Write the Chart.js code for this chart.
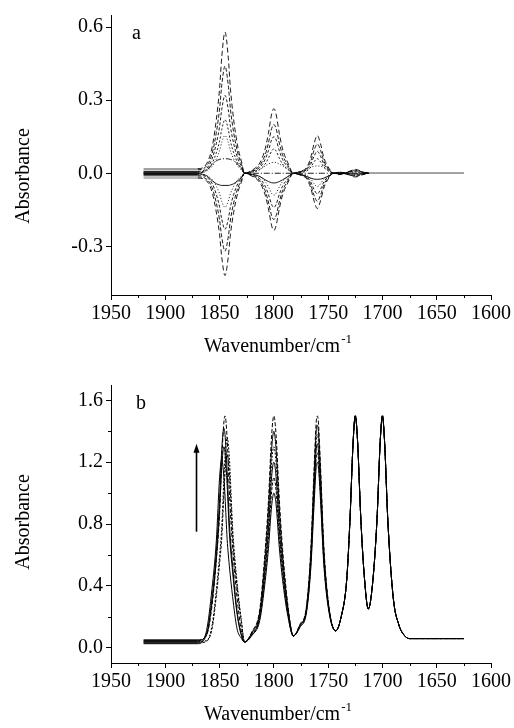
<!DOCTYPE html>
<html>
<head>
<meta charset="utf-8">
<script src="https://cdn.jsdelivr.net/npm/chart.js@4.4.1/dist/chart.umd.min.js"></script>
<style>
  html, body { margin: 0; padding: 0; background: #fff; }
  #wrap { position: relative; width: 514px; height: 728px; }
  canvas { position: absolute; left: 0; }
</style>
</head>
<body>
<div id="wrap">
  <canvas id="chartA" width="514" height="364" style="top:0"></canvas>
  <canvas id="chartB" width="514" height="364" style="top:364px"></canvas>
</div>
<script>
// ---------- panel a: dynamic (difference) spectra ----------
const WAVENUMBER_A = [
  1920, 1870, 1862, 1857, 1853, 1850, 1848, 1845, 1842, 1840, 1837, 1833, 1830, 1827,
  1820, 1813, 1808, 1805, 1802, 1800, 1798, 1795, 1792, 1787, 1782,
  1776, 1770, 1766, 1763, 1760, 1757, 1754, 1749, 1745,
  1740, 1735, 1730, 1727, 1725, 1723, 1720, 1716, 1712,
  1625
];
const DYN_1 = [0.019, 0.019, 0.039, 0.104, 0.22, 0.348, 0.476, 0.58, 0.476, 0.348, 0.22, 0.104, 0.052, 0,
  0.013, 0.042, 0.10, 0.164, 0.244, 0.265, 0.244, 0.164, 0.10, 0.042, 0,
  0.008, 0.023, 0.065, 0.121, 0.155, 0.121, 0.065, 0.019, 0,
  0.005, 0.002, 0.009, 0.014, 0.016, 0.014, 0.009, 0.003, 0, 0];
const DYN_2 = [0.015, 0.015, 0.03, 0.079, 0.167, 0.264, 0.361, 0.44, 0.361, 0.264, 0.167, 0.079, 0.04, 0,
  0.01, 0.032, 0.076, 0.124, 0.184, 0.20, 0.184, 0.124, 0.076, 0.032, 0,
  0.006, 0.018, 0.05, 0.094, 0.12, 0.094, 0.05, 0.014, 0,
  0.004, 0.002, 0.007, 0.012, 0.013, 0.012, 0.007, 0.003, 0, 0];
const DYN_3 = [0.008, 0.008, 0.02, 0.058, 0.122, 0.192, 0.262, 0.32, 0.262, 0.192, 0.122, 0.058, 0.029, 0,
  0.008, 0.024, 0.057, 0.093, 0.138, 0.15, 0.138, 0.093, 0.057, 0.024, 0,
  0.005, 0.014, 0.038, 0.07, 0.09, 0.07, 0.038, 0.011, 0,
  0.003, 0.002, 0.006, 0.009, 0.01, 0.009, 0.006, 0.002, 0, 0];
const DYN_4 = [0.005, 0.005, 0.014, 0.04, 0.084, 0.132, 0.18, 0.22, 0.18, 0.132, 0.084, 0.04, 0.02, 0,
  0.005, 0.016, 0.038, 0.062, 0.092, 0.10, 0.092, 0.062, 0.038, 0.016, 0,
  0.003, 0.009, 0.025, 0.047, 0.06, 0.047, 0.025, 0.007, 0,
  0.002, 0.001, 0.004, 0.006, 0.007, 0.006, 0.004, 0.001, 0, 0];
const DYN_5 = [0.002, 0.002, 0.009, 0.028, 0.059, 0.093, 0.127, 0.155, 0.127, 0.093, 0.059, 0.028, 0.014, 0,
  0.005, 0.015, 0.03, 0.038, 0.044, 0.045, 0.044, 0.038, 0.03, 0.015, 0,
  0.006, 0.015, 0.024, 0.029, 0.03, 0.029, 0.024, 0.012, 0,
  0.001, 0.001, 0.002, 0.004, 0.004, 0.004, 0.002, 0.001, 0, 0];
const DYN_6 = [0, 0, 0.012, 0.036, 0.051, 0.057, 0.059, 0.06, 0.059, 0.057, 0.051, 0.036, 0.021, 0,
  0, 0, 0, 0, 0, 0, 0, 0, 0, 0, 0,
  0, 0, 0, 0, 0, 0, 0, 0, 0,
  0, 0, 0, 0, 0, 0, 0, 0, 0, 0];
const DYN_7 = [-0.002, -0.002, -0.01, -0.03, -0.043, -0.048, -0.05, -0.05, -0.05, -0.048, -0.043, -0.03, -0.018, 0,
  -0.004, -0.013, -0.027, -0.034, -0.039, -0.04, -0.039, -0.034, -0.027, -0.013, 0,
  -0.005, -0.013, -0.02, -0.024, -0.025, -0.024, -0.02, -0.01, 0,
  -0.001, 0, -0.002, -0.003, -0.003, -0.003, -0.002, -0.001, 0, 0];
const DYN_8 = [-0.005, -0.005, -0.01, -0.025, -0.053, -0.084, -0.115, -0.14, -0.115, -0.084, -0.053, -0.025, -0.013, 0,
  -0.005, -0.014, -0.034, -0.056, -0.083, -0.09, -0.083, -0.056, -0.034, -0.014, 0,
  -0.003, -0.008, -0.023, -0.043, -0.055, -0.043, -0.023, -0.007, 0,
  -0.002, -0.001, -0.003, -0.005, -0.006, -0.005, -0.003, -0.001, 0, 0];
const DYN_9 = [-0.008, -0.008, -0.016, -0.041, -0.087, -0.138, -0.189, -0.23, -0.189, -0.138, -0.087, -0.041, -0.021, 0,
  -0.007, -0.022, -0.053, -0.087, -0.129, -0.14, -0.129, -0.087, -0.053, -0.022, 0,
  -0.004, -0.013, -0.036, -0.066, -0.085, -0.066, -0.036, -0.01, 0,
  -0.003, -0.001, -0.005, -0.008, -0.009, -0.008, -0.005, -0.002, 0, 0];
const DYN_10 = [-0.015, -0.015, -0.024, -0.058, -0.122, -0.192, -0.262, -0.32, -0.262, -0.192, -0.122, -0.058, -0.029, 0,
  -0.01, -0.03, -0.072, -0.118, -0.175, -0.19, -0.175, -0.118, -0.072, -0.03, 0,
  -0.006, -0.017, -0.048, -0.09, -0.115, -0.09, -0.048, -0.014, 0,
  -0.004, -0.002, -0.007, -0.011, -0.012, -0.011, -0.007, -0.002, 0, 0];
const DYN_11 = [-0.02, -0.02, -0.031, -0.076, -0.16, -0.252, -0.344, -0.42, -0.344, -0.252, -0.16, -0.076, -0.038, 0,
  -0.012, -0.038, -0.089, -0.146, -0.216, -0.235, -0.216, -0.146, -0.089, -0.038, 0,
  -0.007, -0.022, -0.061, -0.113, -0.145, -0.113, -0.061, -0.017, 0,
  -0.005, -0.002, -0.008, -0.014, -0.015, -0.014, -0.008, -0.003, 0, 0];
const SERIES_A = [DYN_1, DYN_2, DYN_3, DYN_4, DYN_5, DYN_6, DYN_7, DYN_8, DYN_9, DYN_10, DYN_11];
const Y_TICKS_A = [-0.3, 0.0, 0.3, 0.6];

// ---------- panel b: spectra series ----------
const WAVENUMBER_B = [
  1920, 1870, 1862, 1857, 1853, 1850, 1848, 1846, 1845, 1843, 1841, 1838, 1834, 1830, 1827,
  1820, 1813, 1808, 1805, 1802, 1800, 1798, 1795, 1792, 1787, 1782,
  1776, 1770, 1766, 1763, 1761, 1760, 1759, 1757, 1754, 1749, 1743,
  1738, 1733, 1730, 1727, 1725, 1723, 1720, 1717, 1713,
  1709, 1705, 1702, 1700, 1698, 1695, 1690, 1685, 1680, 1675, 1625
];
// 1920-1743 cm-1 part of each spectrum
const SPEC_1 = [0.025, 0.025, 0.11, 0.38, 0.69, 1.10, 1.22, 1.10, 0.98, 0.70, 0.53, 0.33, 0.125, 0.06, 0.036,
  0.08, 0.175, 0.43, 0.64, 0.92, 1.00, 0.93, 0.65, 0.44, 0.20, 0.075,
  0.13, 0.225, 0.51, 0.92, 1.17, 1.20, 1.17, 0.95, 0.54, 0.22, 0.108];
const SPEC_2 = [0.03, 0.03, 0.04, 0.12, 0.335, 0.545, 0.71, 1.00, 1.13, 1.25, 1.13, 0.72, 0.40, 0.17, 0.036,
  0.085, 0.19, 0.47, 0.70, 1.015, 1.10, 1.02, 0.71, 0.48, 0.21, 0.075,
  0.135, 0.235, 0.535, 0.965, 1.23, 1.26, 1.23, 0.99, 0.56, 0.23, 0.108];
const SPEC_3 = [0.035, 0.035, 0.08, 0.29, 0.57, 0.885, 1.17, 1.30, 1.265, 1.05, 0.745, 0.49, 0.225, 0.08, 0.036,
  0.09, 0.20, 0.51, 0.76, 1.11, 1.20, 1.11, 0.77, 0.52, 0.225, 0.075,
  0.14, 0.24, 0.56, 1.01, 1.28, 1.32, 1.28, 1.04, 0.59, 0.235, 0.108];
const SPEC_4 = [0.04, 0.04, 0.045, 0.14, 0.37, 0.595, 0.78, 1.095, 1.23, 1.36, 1.23, 0.78, 0.43, 0.18, 0.036,
  0.095, 0.215, 0.55, 0.825, 1.20, 1.30, 1.20, 0.84, 0.56, 0.24, 0.075,
  0.14, 0.25, 0.58, 1.06, 1.34, 1.38, 1.34, 1.08, 0.61, 0.24, 0.108];
const SPEC_5 = [0.045, 0.045, 0.09, 0.32, 0.62, 0.965, 1.28, 1.42, 1.38, 1.14, 0.81, 0.53, 0.24, 0.085, 0.036,
  0.10, 0.23, 0.59, 0.89, 1.29, 1.40, 1.29, 0.90, 0.60, 0.255, 0.075,
  0.145, 0.255, 0.605, 1.10, 1.40, 1.44, 1.40, 1.13, 0.635, 0.245, 0.108];
const SPEC_6 = [0.05, 0.05, 0.08, 0.27, 0.57, 0.86, 1.21, 1.46, 1.50, 1.35, 1.01, 0.65, 0.33, 0.11, 0.036,
  0.105, 0.245, 0.63, 0.95, 1.38, 1.50, 1.38, 0.965, 0.64, 0.27, 0.075,
  0.15, 0.265, 0.63, 1.15, 1.46, 1.50, 1.46, 1.17, 0.66, 0.25, 0.108];
// 1738-1625 cm-1 part, identical in every spectrum
const SPEC_TAIL = [0.20, 0.43, 0.81, 1.33, 1.50, 1.35, 0.85, 0.49, 0.25,
  0.42, 0.83, 1.34, 1.50, 1.33, 0.82, 0.32, 0.15, 0.08, 0.058, 0.058];
const SERIES_B = [SPEC_1, SPEC_2, SPEC_3, SPEC_4, SPEC_5, SPEC_6];
const Y_TICKS_B = [0.0, 0.4, 0.8, 1.2, 1.6];
const Y_MINOR_B = [0.2, 0.6, 1.0, 1.4];
// growth arrow: wavenumber, from absorbance, to absorbance
const ARROW_B = [1871.5, 0.75, 1.32];

// ---------- shared axis values ----------
const X_TICKS = [1950, 1900, 1850, 1800, 1750, 1700, 1650, 1600];
const X_MINOR = [1925, 1875, 1825, 1775, 1725, 1675, 1625];

// ---------- styling ----------
const FONT = '"Liberation Serif", "Times New Roman", serif';
const DASH_A = [[5, 3], [4, 2], [3, 2], [2, 2], [1, 2], [6, 2, 1, 2], [], [1, 2], [3, 2], [4, 2], [5, 3]];
const SHADE_A = ['#8a8a8a', '#8a8a8a', '#000', '#000', '#000', '#000', '#000', '#000', '#000', '#8a8a8a', '#8a8a8a'];
const DASH_B = [[], [3, 1.5], [], [2, 1.5], [], [4, 2]];

Chart.defaults.font.family = FONT;
Chart.defaults.color = '#000';

function xScale(boxHeight) {
  return {
    type: 'linear', reverse: true, min: 1600, max: 1950,
    afterBuildTicks: s => { s.ticks = X_TICKS.map(v => ({ value: v })); },
    afterFit: s => { s.height = boxHeight; },
    ticks: { font: { size: 20 }, color: '#000', padding: 2, maxRotation: 0, autoSkip: false, callback: v => String(v) },
    grid: { drawOnChartArea: false, drawTicks: true, tickLength: 5, color: '#000', tickWidth: 1 },
    border: { display: true, color: '#000', width: 1 }
  };
}
function yScale(min, max, ticks) {
  return {
    type: 'linear', min, max,
    afterBuildTicks: s => { s.ticks = ticks.map(v => ({ value: v })); },
    afterFit: s => { s.width = 111; },
    ticks: { font: { size: 20 }, color: '#000', padding: 3, callback: v => Number(v).toFixed(1) },
    grid: { drawOnChartArea: false, drawTicks: true, tickLength: 5, color: '#000', tickWidth: 1 },
    border: { display: true, color: '#000', width: 1 }
  };
}

// axis titles, minor ticks, panel letter and arrow
function decorations(cfg) {
  return {
    id: 'decorations',
    afterDraw(chart) {
      const { ctx, chartArea: ca, scales: { x, y } } = chart;
      ctx.save();
      ctx.strokeStyle = '#000';
      ctx.lineWidth = 1;
      ctx.beginPath();
      X_MINOR.forEach(v => {
        const px = Math.round(x.getPixelForValue(v)) + 0.5;
        ctx.moveTo(px, ca.bottom); ctx.lineTo(px, ca.bottom + 3);
      });
      (cfg.minorY || []).forEach(v => {
        const py = Math.round(y.getPixelForValue(v)) + 0.5;
        ctx.moveTo(ca.left, py); ctx.lineTo(ca.left - 3, py);
      });
      ctx.stroke();

      ctx.fillStyle = '#000';
      ctx.textBaseline = 'middle';
      // x title with superscript
      const main = 'Wavenumber/cm', sup = '-1';
      ctx.font = '20px ' + FONT;
      const w1 = ctx.measureText(main).width;
      ctx.font = '13px ' + FONT;
      const w2 = ctx.measureText(sup).width;
      const tx = 278 - (w1 + w2 + 1) / 2;
      const ty = ca.bottom + 52;
      ctx.textAlign = 'left';
      ctx.font = '20px ' + FONT;
      ctx.fillText(main, tx, ty);
      ctx.font = '13px ' + FONT;
      ctx.fillText(sup, tx + w1 + 1, ty - 7);
      // y title
      ctx.save();
      ctx.translate(24, cfg.yTitleY);
      ctx.rotate(-Math.PI / 2);
      ctx.textAlign = 'center';
      ctx.font = '20px ' + FONT;
      ctx.fillText('Absorbance', 0, 0);
      ctx.restore();
      // panel letter
      ctx.textAlign = 'left';
      ctx.font = '20px ' + FONT;
      ctx.fillText(cfg.letter, cfg.letterX, cfg.letterY);
      // arrow
      if (cfg.arrow) {
        const ax = Math.round(x.getPixelForValue(cfg.arrow[0])) + 0.5;
        const y0 = y.getPixelForValue(cfg.arrow[1]);
        const y1 = y.getPixelForValue(cfg.arrow[2]);
        ctx.lineWidth = 1.6;
        ctx.beginPath();
        ctx.moveTo(ax, y0); ctx.lineTo(ax, y1 + 6);
        ctx.stroke();
        ctx.beginPath();
        ctx.moveTo(ax, y1); ctx.lineTo(ax - 3, y1 + 9); ctx.lineTo(ax + 3, y1 + 9); ctx.closePath();
        ctx.fill();
      }
      ctx.restore();
    }
  };
}

function makeChart(canvasId, xs, series, styleFn, yOpts, xBoxHeight, padding, deco) {
  return new Chart(document.getElementById(canvasId), {
    type: 'line',
    data: {
      datasets: series.map((arr, k) => Object.assign({
        data: xs.map((xv, i) => ({ x: xv, y: arr[i] })),
        borderColor: '#000',
        borderWidth: 1,
        pointRadius: 0,
        fill: false,
        cubicInterpolationMode: 'monotone'
      }, styleFn(k)))
    },
    options: {
      responsive: false,
      animation: false,
      events: [],
      layout: { padding },
      plugins: { legend: { display: false }, tooltip: { enabled: false } },
      scales: { x: xScale(xBoxHeight), y: yOpts }
    },
    plugins: [decorations(deco)]
  });
}

// panel a
makeChart('chartA', WAVENUMBER_A, SERIES_A, k => ({
  borderDash: DASH_A[k],
  borderWidth: 0.9,
  segment: {
    borderColor: c => c.p0.parsed.x <= 1712 ? '#a0a0a0' : (c.p0.parsed.x > 1880 ? SHADE_A[k] : undefined),
    borderDash: c => (c.p0.parsed.x <= 1712 || c.p0.parsed.x > 1880) ? [] : undefined
  }
}), yScale(-0.5, 0.65, Y_TICKS_A), 69, { left: 0, right: 23, top: 13, bottom: 0 },
  { letter: 'a', letterX: 132, letterY: 34, yTitleY: 176 });

// panel b
makeChart('chartB', WAVENUMBER_B, SERIES_B.map(s => s.concat(SPEC_TAIL)), k => ({
  borderDash: DASH_B[k],
  segment: {
    borderDash: c => c.p0.parsed.x > 1880 ? [] : undefined
  }
}), yScale(-0.1, 1.7, Y_TICKS_B), 65, { left: 0, right: 23, top: 21, bottom: 0 },
  { letter: 'b', letterX: 136, letterY: 40, yTitleY: 522 - 364, minorY: Y_MINOR_B, arrow: ARROW_B });
</script>
</body>
</html>
